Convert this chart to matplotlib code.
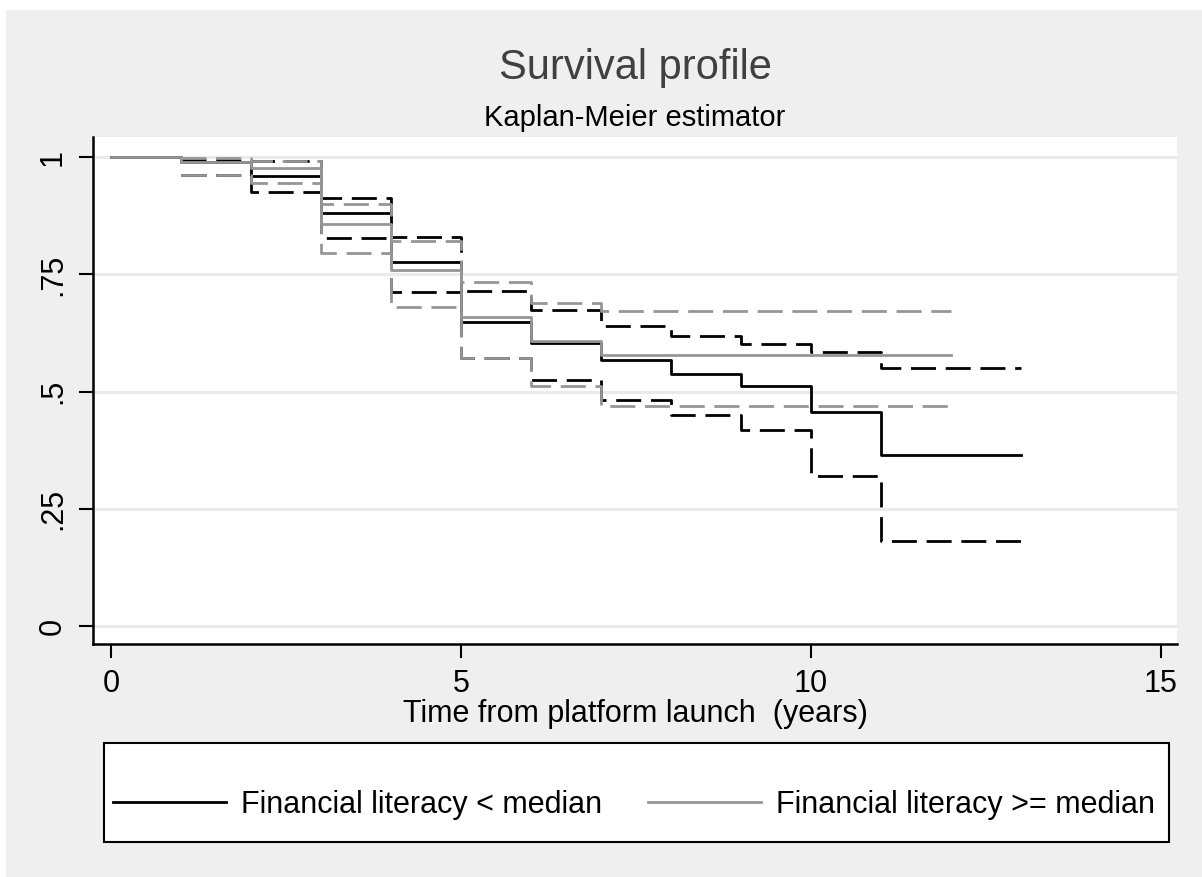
import matplotlib.pyplot as plt
from matplotlib.patches import Rectangle
from matplotlib.lines import Line2D

# years since launch
t_low = [0, 1, 2, 3, 4, 5, 6, 7, 8, 9, 10, 11, 13]
s_low = [1.0, 0.99, 0.960, 0.880, 0.777, 0.649, 0.604, 0.567, 0.538, 0.513, 0.457, 0.365, 0.365]
ci_t_low = [1, 2, 3, 4, 5, 6, 7, 8, 9, 10, 11, 13]
up_low = [0.995, 0.991, 0.912, 0.829, 0.714, 0.674, 0.640, 0.618, 0.601, 0.584, 0.550, 0.550]
lo_low = [0.963, 0.925, 0.828, 0.712, 0.572, 0.524, 0.483, 0.451, 0.418, 0.321, 0.181, 0.181]

t_high = [0, 1, 2, 3, 4, 5, 6, 7, 12]
s_high = [1.0, 0.99, 0.976, 0.857, 0.760, 0.660, 0.609, 0.578, 0.578]
ci_t_high = [1, 2, 3, 4, 5, 6, 7, 12]
up_high = [0.998, 0.992, 0.901, 0.822, 0.733, 0.690, 0.672, 0.672]
lo_high = [0.962, 0.944, 0.795, 0.681, 0.572, 0.513, 0.469, 0.469]

labels = ["Financial literacy < median", "Financial literacy >= median"]
yticks = [0, 0.25, 0.5, 0.75, 1]
ytick_labels = ["0", ".25", ".5", ".75", "1"]
xticks = [0, 5, 10, 15]

plt.rcParams['font.family'] = ['Liberation Sans', 'DejaVu Sans']

W, H = 1202, 877
fig = plt.figure(figsize=(W / 100, H / 100), dpi=100)
fig.patch.set_facecolor("white")
fig.patches.append(Rectangle((6 / W, 0), 1 - 6 / W, 1 - 10 / H, transform=fig.transFigure,
                             facecolor="#efefef", edgecolor="none", zorder=-10))

ax = fig.add_axes([93 / W, 1 - 644 / H, (1177 - 93) / W, (644 - 137) / H])
ax.set_facecolor("white")

black = "black"
grey = "#969696"
dash = (0, (9, 3.5))

ax.step(t_low, s_low, where="post", color=black, lw=2, zorder=3)
ax.step(ci_t_low, up_low, where="post", color=black, lw=2, ls=dash, zorder=3)
ax.step(ci_t_low, lo_low, where="post", color=black, lw=2, ls=dash, zorder=3)
ax.step(t_high, s_high, where="post", color=grey, lw=2, zorder=4)
ax.step(ci_t_high, up_high, where="post", color=grey, lw=2, ls=dash, zorder=4)
ax.step(ci_t_high, lo_high, where="post", color=grey, lw=2, ls=dash, zorder=4)

ax.set_xlim(-0.26, 15.23)
ax.set_ylim(-0.038, 1.043)
ax.set_xticks(xticks)
ax.set_yticks(yticks)
ax.set_yticklabels(ytick_labels, rotation=90, va="center")
for y in yticks:
    ax.axhline(y, color="#eaeaea", lw=2.2, zorder=1)

for s in ["top", "right"]:
    ax.spines[s].set_visible(False)
for s in ["left", "bottom"]:
    ax.spines[s].set_linewidth(1.8)
ax.tick_params(axis="both", direction="out", length=10, width=1.5, labelsize=22, pad=8)
ax.set_xlabel("Time from platform launch  (years)", fontsize=22, labelpad=0)

fig.text(635 / W, 1 - 79 / H, "Survival profile", fontsize=30, color="#404040", ha="center", va="baseline")
fig.text(635 / W, 1 - 126 / H, "Kaplan-Meier estimator", fontsize=21, color="black", ha="center", va="baseline")

# legend box
fig.patches.append(Rectangle((104 / W, 1 - 842 / H), (1169 - 104) / W, (842 - 743) / H,
                             transform=fig.transFigure, facecolor="white", edgecolor="black",
                             lw=1.5, zorder=1))
handles = [Line2D([], [], color=black, lw=2), Line2D([], [], color=grey, lw=2)]
fig.legend(handles, labels, loc="center", bbox_to_anchor=(634 / W, 1 - 805 / H), ncol=2,
           frameon=False, fontsize=22, handlelength=3.7, handletextpad=0.5, columnspacing=1.5)

fig.savefig("out.png", dpi=100)
